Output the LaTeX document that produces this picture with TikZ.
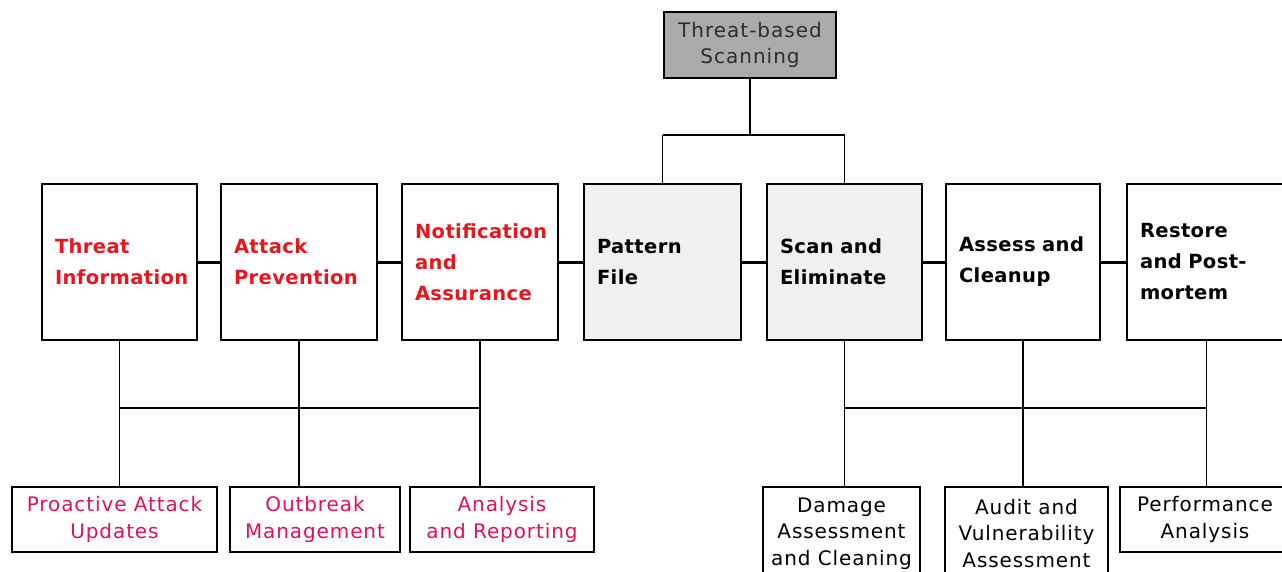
\documentclass[tikz,border=0pt]{standalone}
\usepackage{fontspec}
\setmainfont{DejaVu Sans}
\newfontfamily\spacedfont[LetterSpace=4.5]{DejaVu Sans}
\newfontfamily\topfont[LetterSpace=5]{DejaVu Sans}
\newfontfamily\mainfont[LetterSpace=2]{DejaVu Sans}
\definecolor{redtxt}{RGB}{230,22,30}
\definecolor{pinktxt}{RGB}{222,18,88}
\definecolor{topfill}{RGB}{171,171,171}
\definecolor{lightfill}{RGB}{240,240,240}
\definecolor{toptxt}{RGB}{45,45,45}
\begin{document}
\begin{tikzpicture}[x=1pt,y=-1pt,
  mainbox/.style={draw, line width=2.8pt, minimum height=156pt, inner sep=0pt,
    font=\mainfont\bfseries\fontsize{19.5}{31}\selectfont, align=left},
  redbox/.style={mainbox, text=redtxt},
  blackbox/.style={mainbox, text=black},
  subbox/.style={draw, line width=1.6pt, inner sep=0pt, align=center,
    font=\spacedfont\fontsize{20}{26.5}\selectfont},
  pinkbox/.style={subbox, text=pinktxt, minimum height=65pt},
  link/.style={line width=3pt},
  tree/.style={line width=1.7pt}
]
\useasboundingbox (0,0) rectangle (1282,572);

% top box
\node[draw, line width=1.7pt, fill=topfill, text=toptxt, minimum width=172pt, minimum height=66pt,
  inner sep=0pt, align=center, font=\topfont\fontsize{20}{26}\selectfont] (tb) at (750,45) {Threat-based\\Scanning};

% main row
\node[redbox, minimum width=155pt, text width=129pt] (m1) at (119.5,262) {Threat\\Information};
\node[redbox, minimum width=156pt, text width=130pt] (m2) at (299,262) {Attack\\Prevention};
\node[redbox, minimum width=156pt, text width=130pt] (m3) at (480,262) {Notification\\and\\Assurance};
\node[blackbox, fill=lightfill, minimum width=157pt, text width=131pt] (m4) at (662.5,262) {Pattern\\File};
\node[blackbox, fill=lightfill, minimum width=155pt, text width=129pt] (m5) at (844.5,262) {Scan and\\Eliminate};
\node[blackbox, minimum width=154pt, text width=128pt] (m6) at (1023,262) {Assess and\\Cleanup};
\node[blackbox, minimum width=159pt, text width=133pt] (m7) at (1206.5,262) {Restore\\and Post-\\mortem};

\draw[link] (m1) -- (m2);
\draw[link] (m2) -- (m3);
\draw[link] (m3) -- (m4);
\draw[link] (m4) -- (m5);
\draw[link] (m5) -- (m6);
\draw[link] (m6) -- (m7);

% top tree
\coordinate (tj) at (750,135);
\draw[tree] (tb.south) -- (tb.south |- tj);
\draw[tree] (m4.north |- tj) -- (m5.north |- tj);
\draw[tree] (m4.north |- tj) -- (m4.north);
\draw[tree] (m5.north |- tj) -- (m5.north);

% bottom left boxes
\node[pinkbox, minimum width=205pt] (p1) at (114.5,519.5) {Proactive Attack\\Updates};
\node[pinkbox, minimum width=170pt] (p2) at (315,519.5) {Outbreak\\Management};
\node[pinkbox, minimum width=184pt] (p3) at (502,519.5) {Analysis\\and Reporting};

\coordinate (lb) at (300,408);
\draw[tree] (m1.south) -- (m1.south |- p1.north);
\draw[tree] (m2.south) -- (m2.south |- p2.north);
\draw[tree] (m3.south) -- (m3.south |- p3.north);
\draw[tree] (m1.south |- lb) -- (m3.south |- lb);

% bottom right boxes
\node[subbox, minimum width=157pt, minimum height=93pt] (d1) at (841.5,533.5) {Damage\\Assessment\\and Cleaning};
\node[subbox, minimum width=163pt, minimum height=93pt] (d2) at (1026.5,533.5) {Audit and\\Vulnerability\\Assessment};
\node[subbox, minimum width=170pt, minimum height=65pt] (d3) at (1205,519.5) {Performance\\Analysis};

\coordinate (rb) at (1000,408);
\draw[tree] (m5.south) -- (m5.south |- d1.north);
\draw[tree] (m6.south) -- (m6.south |- d2.north);
\draw[tree] (m7.south) -- (m7.south |- d3.north);
\draw[tree] (m5.south |- rb) -- (m7.south |- rb);
\end{tikzpicture}
\end{document}
